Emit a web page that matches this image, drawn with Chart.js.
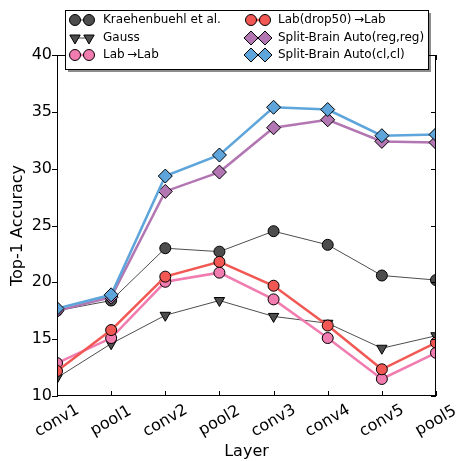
<!DOCTYPE html>
<html>
<head>
<meta charset="utf-8">
<script src="https://cdn.jsdelivr.net/npm/chart.js"></script>
<style>
  html, body { margin: 0; padding: 0; background: #fff; }
  #wrap { width: 461px; height: 461px; position: relative; }
</style>
</head>
<body>
<div id="wrap"><canvas id="layerChart"></canvas></div>
<script>
    // data
    var layers = ['conv1', 'pool1', 'conv2', 'pool2', 'conv3', 'conv4', 'conv5', 'pool5'];
    var yTicks = [10, 15, 20, 25, 30, 35, 40];
    var kraehenbuehl = [17.5, 18.4, 23.0, 22.7, 24.5, 23.3, 20.6, 20.2];
    var gauss = [11.6, 14.6, 17.1, 18.4, 17.0, 16.4, 14.2, 15.3];
    var labToLab = [12.9, 15.1, 20.05, 20.85, 18.5, 15.1, 11.5, 13.8];
    var labDrop50 = [12.2, 15.8, 20.5, 21.8, 19.7, 16.2, 12.35, 14.7];
    var splitReg = [17.5, 18.7, 28.0, 29.7, 33.6, 34.3, 32.4, 32.3];
    var splitCl = [17.7, 18.9, 29.35, 31.2, 35.4, 35.2, 32.9, 33.0];

    var FONT = "'DejaVu Sans', sans-serif";

    function series(label, data, color, width, style, radius, rot, order) {
        return {
            label: label,
            data: data,
            borderColor: color,
            backgroundColor: color,
            borderWidth: width,
            pointStyle: style,
            pointRadius: radius,
            pointRotation: rot,
            pointBackgroundColor: color,
            pointBorderColor: '#000',
            pointBorderWidth: 1,
            pointHoverRadius: radius,
            tension: 0,
            clip: 0,
            order: order
        };
    }

    var datasets = [
        series('Kraehenbuehl et al.', kraehenbuehl, '#4D4D4D', 1, 'circle', 5.5, 0, 5),
        series('Gauss', gauss, '#4D4D4D', 1, 'triangle', 6, 180, 4),
        series('Lab\u2009\u2192Lab', labToLab, '#F17CB0', 2.5, 'circle', 5.5, 0, 3),
        series('Lab(drop50)\u2009\u2192Lab', labDrop50, '#F15854', 2.5, 'circle', 5.5, 0, 2),
        series('Split-Brain Auto(reg,reg)', splitReg, '#B276B2', 2.5, 'rectRot', 7, 0, 1),
        series('Split-Brain Auto(cl,cl)', splitCl, '#5DA5DA', 2.5, 'rectRot', 7, 0, 0)
    ];

    // frame, ticks, rotated labels, titles and the boxed legend
    var decorations = {
        id: 'decorations',
        afterDatasetsDraw: function(chart) {
            var ctx = chart.ctx, a = chart.chartArea;
            var xs = chart.scales.x, ys = chart.scales.y;
            ctx.save();
            ctx.strokeStyle = '#000';
            ctx.lineWidth = 1;
            ctx.strokeRect(a.left + 0.5, a.top + 0.5, a.right - a.left - 1, a.bottom - a.top - 1);
            ctx.beginPath();
            yTicks.forEach(function(v) {
                var y = Math.round(ys.getPixelForValue(v)) + 0.5;
                ctx.moveTo(a.left - 5, y); ctx.lineTo(a.left + 1, y);
                ctx.moveTo(a.right - 5, y); ctx.lineTo(a.right, y);
            });
            layers.forEach(function(l, i) {
                var x = Math.round(xs.getPixelForValue(i)) + 0.5;
                ctx.moveTo(x, a.bottom); ctx.lineTo(x, a.bottom - 5);
                ctx.moveTo(x, a.top); ctx.lineTo(x, a.top + 5);
            });
            ctx.stroke();

            ctx.fillStyle = '#000';
            ctx.font = '16px ' + FONT;
            ctx.textAlign = 'center';
            ctx.textBaseline = 'middle';
            layers.forEach(function(l, i) {
                var x = xs.getPixelForValue(i);
                ctx.save();
                ctx.translate(x, a.bottom + 25);
                ctx.rotate(-Math.PI / 6);
                ctx.fillText(l, 0, 0);
                ctx.restore();
            });
            ctx.fillText('Layer', (a.left + a.right) / 2, 452);
            ctx.save();
            ctx.translate(18, (a.top + a.bottom) / 2);
            ctx.rotate(-Math.PI / 2);
            ctx.fillText('Top-1 Accuracy', 0, 0);
            ctx.restore();
            ctx.restore();
        },
        afterDraw: function(chart) {
            var ctx = chart.ctx;
            var bx = 65, by = 10, bw = 363, bh = 59;
            ctx.save();
            ctx.fillStyle = 'rgba(0,0,0,0.45)';
            ctx.fillRect(bx + 3, by + 3, bw, bh);
            ctx.fillStyle = '#fff';
            ctx.fillRect(bx, by, bw, bh);
            ctx.strokeStyle = '#000';
            ctx.lineWidth = 1;
            ctx.strokeRect(bx + 0.5, by + 0.5, bw, bh);

            var rows = [20, 38, 55];
            var cols = [{ m1: 75, m2: 89, t: 103 }, { m1: 251, m2: 265, t: 278 }];
            chart.data.datasets.forEach(function(ds, i) {
                var c = cols[Math.floor(i / 3)], y = rows[i % 3];
                ctx.strokeStyle = ds.borderColor;
                ctx.lineWidth = ds.borderWidth;
                ctx.beginPath();
                ctx.moveTo(c.m1, y); ctx.lineTo(c.m2, y);
                ctx.stroke();
                ctx.fillStyle = ds.pointBackgroundColor;
                ctx.strokeStyle = '#000';
                ctx.lineWidth = 1;
                [c.m1, c.m2].forEach(function(x) {
                    Chart.helpers.drawPoint(ctx, {
                        pointStyle: ds.pointStyle,
                        radius: ds.pointRadius,
                        rotation: ds.pointRotation,
                        borderWidth: 1
                    }, x, y);
                });
                ctx.fillStyle = '#000';
                ctx.font = '12px ' + FONT;
                ctx.textAlign = 'left';
                ctx.textBaseline = 'middle';
                ctx.fillText(ds.label, c.t, y);
            });
            ctx.restore();
        }
    };

    var ctx = document.getElementById('layerChart').getContext('2d');
    var chart = new Chart(ctx, {
        type: 'line',
        data: { labels: layers, datasets: datasets },
        options: {
            responsive: true,
            maintainAspectRatio: false,
            animation: false,
            events: [],
            layout: { padding: { top: 55, right: 25, left: 0, bottom: 0 } },
            scales: {
                x: {
                    offset: false,
                    grid: { display: false },
                    border: { display: false },
                    ticks: { display: false },
                    afterFit: function(s) { s.height = 65; }
                },
                y: {
                    min: 10,
                    max: 40,
                    grid: { display: false, drawTicks: false },
                    border: { display: false },
                    ticks: {
                        stepSize: 5,
                        padding: 5,
                        color: '#000',
                        font: { size: 16, family: FONT }
                    },
                    afterFit: function(s) { s.width = 57; }
                }
            },
            plugins: {
                legend: { display: false },
                tooltip: { enabled: false }
            }
        },
        plugins: [decorations]
    });
</script>
</body>
</html>
